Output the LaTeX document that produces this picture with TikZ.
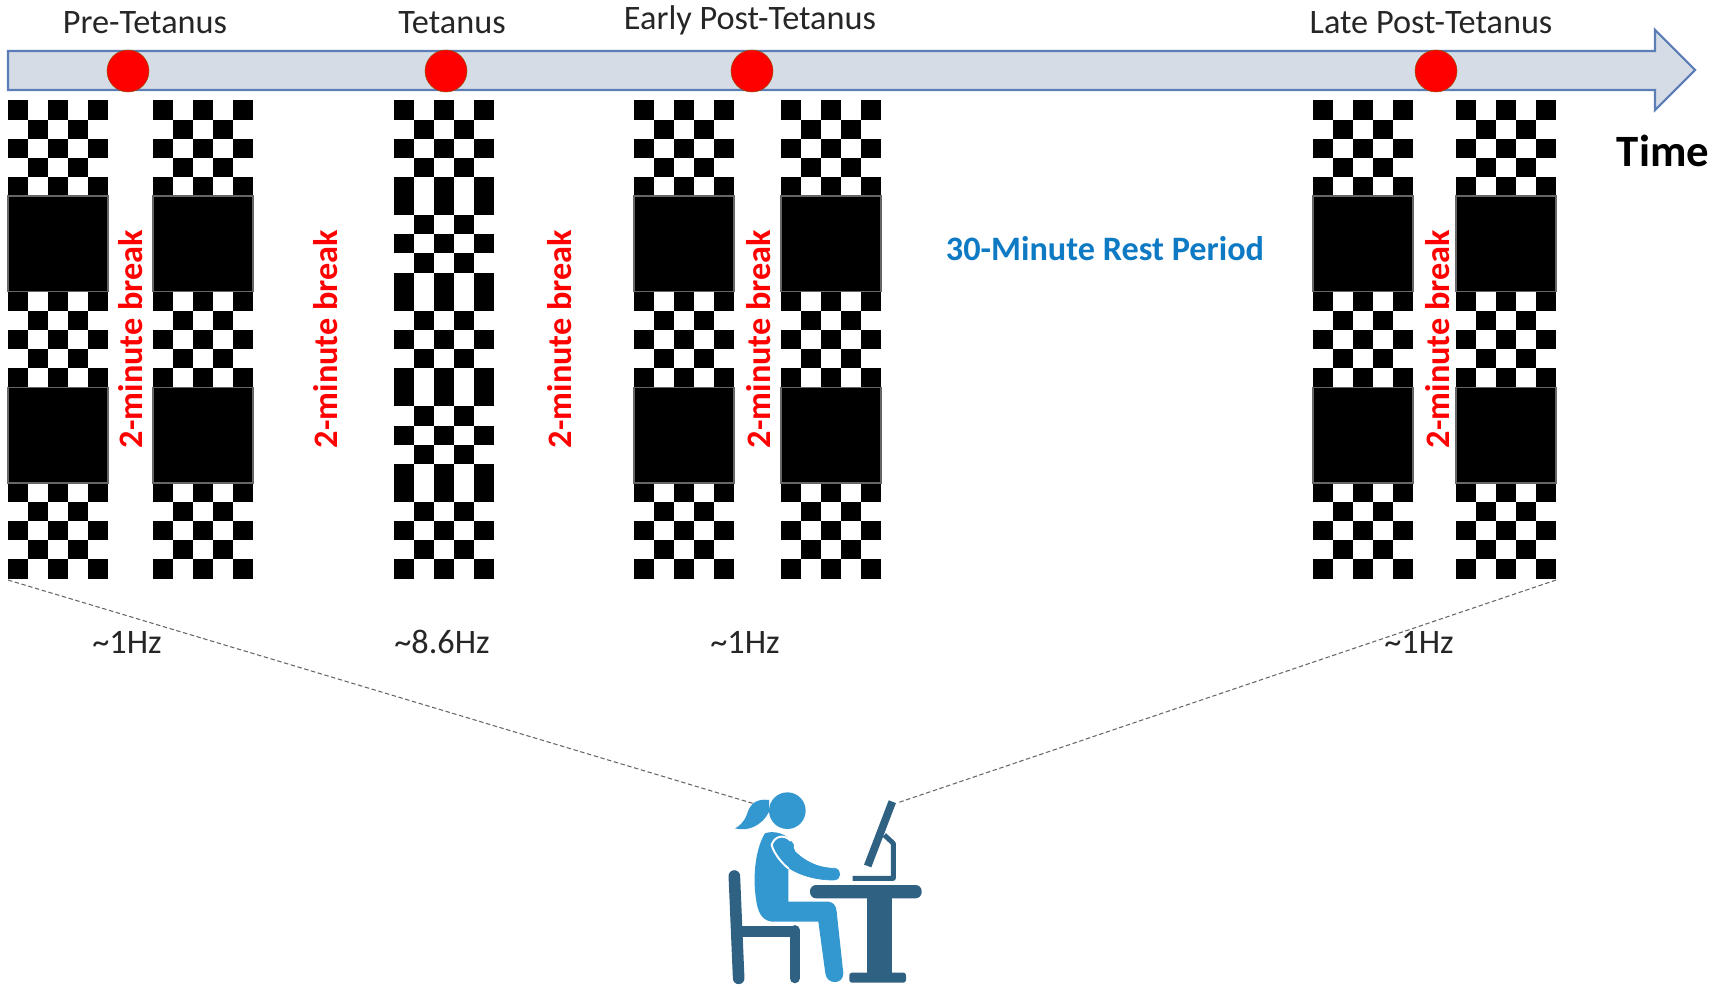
\documentclass[tikz,border=0pt]{standalone}
\usepackage{fontspec}
\setmainfont{Carlito}
\usepackage{xcolor}
\usetikzlibrary{positioning,shapes.arrows}
\definecolor{shaftfill}{HTML}{D6DCE5}
\definecolor{shaftline}{HTML}{5B7DB8}
\definecolor{restblue}{HTML}{0E7AC4}
\definecolor{personblue}{HTML}{3498D0}
\definecolor{furniture}{HTML}{2F6183}
\tikzset{
    stage/.style={font=\fontsize{19.5}{22}\selectfont, text=black!85},
    rate/.style={font=\fontsize{19.5}{22}\selectfont, text=black!85},
    pause/.style={font=\fontsize{19.5}{22}\selectfont\bfseries, text=red, rotate=90},
    marker/.style={circle, fill=red, draw=orange!60!black, line width=0.3pt, minimum size=0.84cm, inner sep=0pt},
    sightline/.style={dashed, gray!80!black, line width=0.6pt, dash pattern=on 2.5pt off 1.5pt},
    block/.style={fill=black, draw=black!60, line width=0.8pt},
    slowcol/.pic={
        \foreach \r in {0,2,4,10,12,14,20,22,24}
            \foreach \c in {0,2,4}
                \fill (\c*20,\r*19.12) rectangle +(20,19.12);
        \foreach \r in {1,3,11,13,21,23}
            \foreach \c in {1,3}
                \fill (\c*20,\r*19.12) rectangle +(20,19.12);
        \draw[block] (0,5*19.12) rectangle (100,10*19.12);
        \draw[block] (0,15*19.12) rectangle (100,20*19.12);
    },
    fastcol/.pic={
        \foreach \r in {0,2,4,5,7,9,10,12,14,15,17,19,20,22,24}
            \foreach \c in {0,2,4}
                \fill (\c*20,\r*19.12) rectangle +(20,19.12);
        \foreach \r in {1,3,6,8,11,13,16,18,21,23}
            \foreach \c in {1,3}
                \fill (\c*20,\r*19.12) rectangle +(20,19.12);
    }
}
\begin{document}
\begin{tikzpicture}[x=0.02cm, y=-0.02cm]
    \useasboundingbox (0,0) rectangle (1717,990);

    % Time arrow
    \draw[fill=shaftfill, draw=shaftline, line width=1.2pt, line join=miter]
        (8,51) -- (1655,51) -- (1655,30) -- (1695,70) -- (1655,110) -- (1655,90) -- (8,90) -- cycle;
    \node[font=\fontsize{25.5}{28}\selectfont\bfseries] (time) at (1663,151) {Time};

    % Stages
    \node[marker] (pre) at (128,71) {};
    \node[marker] (tet) at (446,71) {};
    \node[marker] (early) at (752,71) {};
    \node[marker] (late) at (1436,71) {};
    \node[stage] (prelabel) at (145,23) {Pre-Tetanus};
    \node[stage] (tetlabel) at (452,23) {Tetanus};
    \node[stage] (earlylabel) at (750,20) {Early Post-Tetanus};
    \node[stage] (latelabel) at (1431,23) {Late Post-Tetanus};

    % Checkerboard columns
    \foreach \x in {8,153,634,781,1313,1456}
        \pic at (\x,100.5) {slowcol};
    \pic at (394,100.5) {fastcol};

    % Breaks
    \foreach \x/\name in {131/a,326/b,560/c,759/d,1438/e}
        \node[pause] (break\name) at (\x,339) {2-minute break};
    \node[font=\fontsize{19.5}{22}\selectfont\bfseries, text=restblue] (rest) at (1105,249) {30-Minute Rest Period};

    % Rates
    \node[rate] (ratea) at (127,642) {\textasciitilde 1Hz};
    \node[rate] (rateb) at (442,642) {\textasciitilde 8.6Hz};
    \node[rate] (ratec) at (745,642) {\textasciitilde 1Hz};
    \node[rate] (rated) at (1419,642) {\textasciitilde 1Hz};

    % Lines of sight
    \coordinate (screenleft) at (8,580);
    \coordinate (screenright) at (1556,580);
    \coordinate (ponytail) at (755,804);
    \coordinate (monitor) at (897,803);
    \draw[sightline] (screenleft) -- (ponytail);
    \draw[sightline] (screenright) -- (monitor);

    % Person at the desk
    \begin{scope}[shift={(700,770)}, x=0.00667cm, y=-0.00667cm]
        % Chair
        \draw[furniture, line width=6.6pt, line cap=round] (103,318) -- (116,625);
        \draw[furniture, line width=6.6pt] (116,485) -- (285,485);
        \draw[furniture, line width=5.6pt, line cap=round] (284,480) -- (284,625);
        % Desk
        \fill[furniture, rounded corners=3.5pt] (330,345) rectangle (665,385);
        \fill[furniture] (500,385) rectangle (575,610);
        \fill[furniture, rounded corners=1.5pt] (448,608) rectangle (618,638);
        % Monitor
        \draw[furniture, line width=4.4pt] (577,95) -- (503,288);
        \draw[furniture, line width=2.8pt, line join=round] (553,195) -- (580,220) -- (580,325) -- (458,325);
        % Body
        \fill[personblue] (262,122) circle (55);
        \fill[personblue] (207,90) .. controls (170,85) and (150,100) .. (140,135)
            .. controls (130,160) and (115,170) .. (105,175)
            .. controls (140,185) and (185,170) .. (207,125) -- cycle;
        \fill[personblue] (195,190) .. controls (220,180) and (265,190) .. (282,225)
            -- (265,300) -- (265,395) -- (385,395)
            .. controls (400,397) and (408,405) .. (410,425)
            -- (430,610) .. controls (430,645) and (380,645) .. (376,610)
            -- (355,455) -- (215,455)
            .. controls (180,450) and (170,420) .. (165,360)
            .. controls (160,300) and (170,230) .. (195,190) -- cycle;
        \draw[personblue, fill=personblue] (225,200)
            .. controls (250,190) and (270,205) .. (285,245)
            .. controls (310,270) and (350,295) .. (405,295)
            .. controls (425,300) and (425,330) .. (400,330)
            .. controls (340,330) and (280,310) .. (250,280)
            -- (215,235) .. controls (210,220) and (212,208) .. (225,200) -- cycle;
        \draw[white, line width=1.1pt, line cap=round] (272,212)
            .. controls (250,190) and (222,200) .. (215,225)
            .. controls (220,245) and (240,275) .. (265,295);
    \end{scope}
\end{tikzpicture}
\end{document}
